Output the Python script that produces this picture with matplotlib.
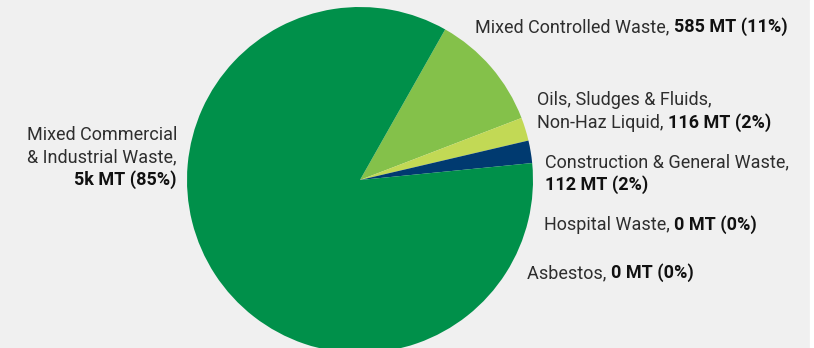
import matplotlib.pyplot as plt
from matplotlib.patches import Rectangle

labels = ["Mixed Controlled Waste", "Oils, Sludges & Fluids,\nNon-Haz Liquid",
          "Construction & General Waste", "Hospital Waste", "Asbestos",
          "Mixed Commercial\n& Industrial Waste"]
values = [585, 116, 112, 0, 0, 4520]
value_text = ["585 MT (11%)", "116 MT (2%)", "112 MT (2%)", "0 MT (0%)", "0 MT (0%)", "5k MT (85%)"]
colors = ["#84c14a", "#c2d955", "#003a70", "#7f7f7f", "#5a5a5a", "#00904a"]

W, H = 814, 348
fig = plt.figure(figsize=(W / 100, H / 100), dpi=100)
fig.patch.set_facecolor("#f0f0f0")
ax = fig.add_axes([0, 0, 1, 1])
ax.set_xlim(0, W)
ax.set_ylim(0, H)
ax.set_aspect("equal")
ax.axis("off")
ax.add_patch(Rectangle((810, 0), 4, H, color="white", zorder=0))

ax.pie(values, colors=colors, center=(360, 168), radius=173, startangle=60.5,
       counterclock=False, wedgeprops=dict(linewidth=0))
ax.set_xlim(0, W)
ax.set_ylim(0, H)

fs = 13
lh = 22.5
font = ["Roboto", "DejaVu Sans"]
renderer = fig.canvas.get_renderer()
reg = dict(fontsize=fs, family=font, color="#2e2e2e", va="baseline")
bold = dict(fontsize=fs, family=font, color="#111111", va="baseline", weight="bold")


def label(x, y, name, val, ha="left", newline_val=False):
    # one text per line; the value goes in bold after the last line or below it
    lines = name.split("\n")
    lines[-1] += ","
    y = H - y
    for i, line in enumerate(lines):
        yy = y - lh * i
        if i == len(lines) - 1 and not newline_val:
            t = ax.text(x, yy, line + " ", ha=ha, **reg)
            bb = t.get_window_extent(renderer)
            ax.text(bb.x1, yy, val, ha="left", **bold)
        else:
            ax.text(x, yy, line, ha=ha, **reg)
    if newline_val:
        ax.text(x, y - lh * len(lines), val, ha=ha, **bold)


label(475, 32, labels[0], value_text[0])
label(537, 105, labels[1], value_text[1])
label(545, 167, labels[2], value_text[2], newline_val=True)
label(544, 230, labels[3], value_text[3])
label(527, 278, labels[4], value_text[4])
label(177, 140, labels[5], value_text[5], ha="right", newline_val=True)

fig.savefig("out.png", dpi=100, facecolor=fig.get_facecolor())
